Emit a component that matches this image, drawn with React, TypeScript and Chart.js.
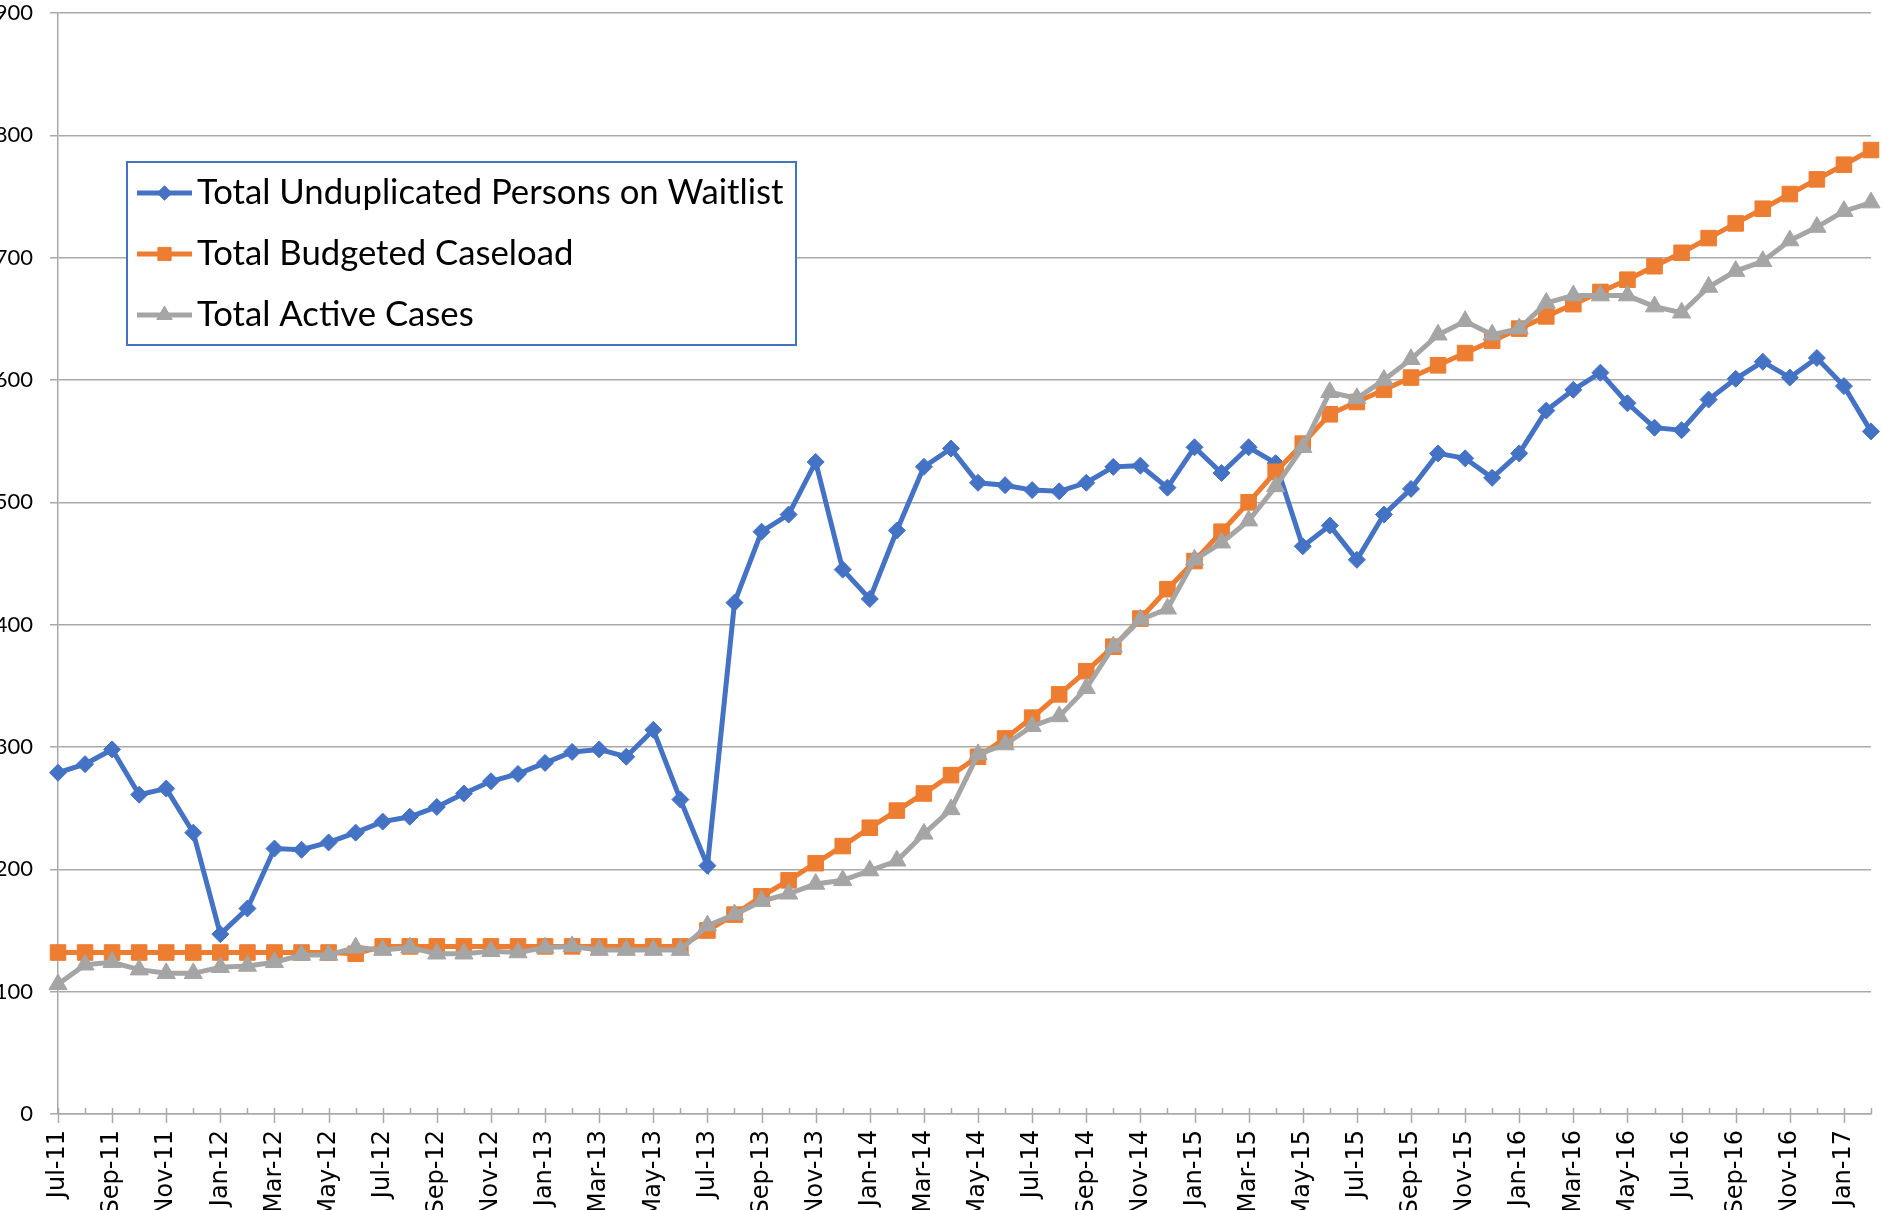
import React, { useEffect, useRef } from 'react';
import { Chart, registerables } from 'chart.js';
import { drawPoint } from 'chart.js/helpers';

Chart.register(...registerables);

const months = [
  'Jul-11', 'Aug-11', 'Sep-11', 'Oct-11', 'Nov-11', 'Dec-11',
  'Jan-12', 'Feb-12', 'Mar-12', 'Apr-12', 'May-12', 'Jun-12', 'Jul-12', 'Aug-12', 'Sep-12', 'Oct-12', 'Nov-12', 'Dec-12',
  'Jan-13', 'Feb-13', 'Mar-13', 'Apr-13', 'May-13', 'Jun-13', 'Jul-13', 'Aug-13', 'Sep-13', 'Oct-13', 'Nov-13', 'Dec-13',
  'Jan-14', 'Feb-14', 'Mar-14', 'Apr-14', 'May-14', 'Jun-14', 'Jul-14', 'Aug-14', 'Sep-14', 'Oct-14', 'Nov-14', 'Dec-14',
  'Jan-15', 'Feb-15', 'Mar-15', 'Apr-15', 'May-15', 'Jun-15', 'Jul-15', 'Aug-15', 'Sep-15', 'Oct-15', 'Nov-15', 'Dec-15',
  'Jan-16', 'Feb-16', 'Mar-16', 'Apr-16', 'May-16', 'Jun-16', 'Jul-16', 'Aug-16', 'Sep-16', 'Oct-16', 'Nov-16', 'Dec-16',
  'Jan-17', 'Feb-17',
];

const waitlist = [
  279, 286, 298, 261, 266, 230, 147, 168, 217, 216,
  222, 230, 239, 243, 251, 262, 272, 278, 287, 296,
  298, 292, 314, 257, 203, 418, 476, 490, 533, 445,
  421, 477, 529, 544, 516, 514, 510, 509, 516, 529,
  530, 512, 545, 524, 545, 532, 464, 481, 453, 490,
  511, 540, 536, 520, 540, 575, 592, 606, 581, 561,
  559, 584, 601, 615, 602, 618, 595, 558,
];

const budgeted = [
  132, 132, 132, 132, 132, 132, 132, 132, 132, 132,
  132, 131, 137, 137, 137, 137, 137, 137, 137, 137,
  137, 137, 137, 137, 150, 163, 178, 191, 205, 219,
  234, 248, 262, 277, 292, 307, 324, 343, 362, 382,
  405, 429, 452, 476, 500, 525, 548, 572, 582, 592,
  602, 612, 622, 632, 642, 652, 662, 672, 682, 693,
  704, 716, 728, 740, 752, 764, 776, 788,
];

const active = [
  106, 122, 124, 118, 115, 115, 120, 121, 124, 130,
  130, 136, 134, 136, 131, 131, 133, 132, 136, 137,
  134, 134, 134, 134, 154, 163, 174, 180, 188, 191,
  199, 207, 229, 249, 294, 302, 317, 325, 348, 382,
  404, 413, 453, 467, 485, 513, 545, 590, 585, 600,
  617, 637, 648, 637, 642, 663, 669, 669, 669, 660,
  655, 676, 689, 697, 714, 725, 738, 745,
];

const seriesNames = [
  'Total Unduplicated Persons on Waitlist',
  'Total Budgeted Caseload',
  'Total Active Cases',
];

const yTicks = [0, 100, 200, 300, 400, 500, 600, 700, 800, 900];

const BLUE = '#4472C4';
const ORANGE = '#ED7D31';
const GRAY = '#A5A5A5';
const GRID = '#A9A9A9';

const W = 1883;
const H = 1210;

const xTickMarks = {
  id: 'xTickMarks',
  beforeDatasetsDraw(chart: any) {
    const { ctx } = chart;
    const x = chart.scales.x;
    const axisY = x.top;
    ctx.save();
    ctx.strokeStyle = GRID;
    ctx.lineWidth = 1.5;
    for (let i = 0; i < months.length; i++) {
      const px = Math.round(x.getPixelForValue(i)) + 0.5;
      ctx.beginPath();
      ctx.moveTo(px, axisY - 6);
      ctx.lineTo(px, axisY + (i % 2 === 0 ? 9 : 0));
      ctx.stroke();
    }
    ctx.restore();
  },
};

const boxLegend = {
  id: 'boxLegend',
  afterDraw(chart: any) {
    const { ctx } = chart;
    const left = 127;
    const top = 162;
    const width = 669;
    const height = 183;
    ctx.save();
    ctx.fillStyle = '#ffffff';
    ctx.fillRect(left, top, width, height);
    ctx.strokeStyle = BLUE;
    ctx.lineWidth = 2;
    ctx.strokeRect(left, top, width, height);
    chart.data.datasets.forEach((ds: any, i: number) => {
      const cy = top + 31 + i * 61;
      ctx.strokeStyle = ds.borderColor;
      ctx.lineWidth = 5;
      ctx.beginPath();
      ctx.moveTo(137, cy);
      ctx.lineTo(192, cy);
      ctx.stroke();
      ctx.fillStyle = ds.pointBackgroundColor;
      ctx.strokeStyle = ds.pointBorderColor;
      ctx.lineWidth = 1;
      drawPoint(ctx, { pointStyle: ds.pointStyle, radius: ds.pointRadius * 0.85, borderWidth: 1, rotation: 0 }, 164.5, cy);
      ctx.fillStyle = '#000000';
      ctx.font = '34.7px Lato';
      ctx.textBaseline = 'middle';
      ctx.textAlign = 'left';
      ctx.fillText(ds.label, 197, cy);
    });
    ctx.restore();
  },
};

export default function App() {
  const canvasRef = useRef<HTMLCanvasElement | null>(null);

  useEffect(() => {
    const canvas = canvasRef.current;
    if (!canvas) return;
    const mk = (label: string, data: number[], color: string, style: string, radius: number, order: number) => ({
      label,
      data,
      borderColor: color,
      backgroundColor: color,
      pointBackgroundColor: color,
      pointBorderColor: color,
      pointBorderWidth: 1,
      pointStyle: style,
      pointRadius: radius,
      borderWidth: 5,
      tension: 0,
      clip: false as any,
      order,
    });
    const chart = new Chart(canvas, {
      type: 'line',
      data: {
        labels: months,
        datasets: [
          mk(seriesNames[0], waitlist, BLUE, 'rectRot', 8.5, 2),
          mk(seriesNames[1], budgeted, ORANGE, 'rect', 11, 1),
          mk(seriesNames[2], active, GRAY, 'triangle', 10.5, 0),
        ],
      },
      options: {
        responsive: false,
        animation: false,
        devicePixelRatio: 1,
        layout: { padding: { top: 13, right: 5, left: 0, bottom: 0 } },
        plugins: {
          legend: { display: false },
          tooltip: { enabled: false },
        },
        scales: {
          x: {
            type: 'category',
            offset: false,
            grid: { display: false, drawTicks: false },
            border: { display: true, color: GRID, width: 1.5 },
            ticks: {
              autoSkip: false,
              minRotation: 90,
              maxRotation: 90,
              padding: 16,
              color: '#000000',
              font: { family: 'DejaVu Sans', size: 24 },
              callback: (_v: any, i: number) => (i % 2 === 0 ? months[i] : ''),
            },
            afterFit: (scale: any) => {
              scale.height = 96;
              scale.paddingLeft = 0;
              scale.paddingRight = 0;
            },
          },
          y: {
            min: 0,
            max: 900,
            afterBuildTicks: (scale: any) => {
              scale.ticks = yTicks.map((v) => ({ value: v }));
            },
            grid: { color: GRID, lineWidth: 1.5, tickLength: 8, drawTicks: true },
            border: { display: true, color: GRID, width: 1.5 },
            ticks: {
              padding: 17,
              color: '#000000',
              font: { family: 'Lato', size: 22 },
            },
            afterFit: (scale: any) => {
              scale.width = 58;
              scale.paddingTop = 0;
              scale.paddingBottom = 0;
            },
          },
        },
      },
      plugins: [xTickMarks, boxLegend],
    });
    return () => chart.destroy();
  }, []);

  return (
    <div
      style={{
        position: 'fixed',
        left: 0,
        top: 0,
        width: W,
        height: H,
        overflow: 'hidden',
        background: '#ffffff',
      }}
    >
      <canvas ref={canvasRef} width={W} height={H} style={{ display: 'block', width: W, height: H }} />
    </div>
  );
}
